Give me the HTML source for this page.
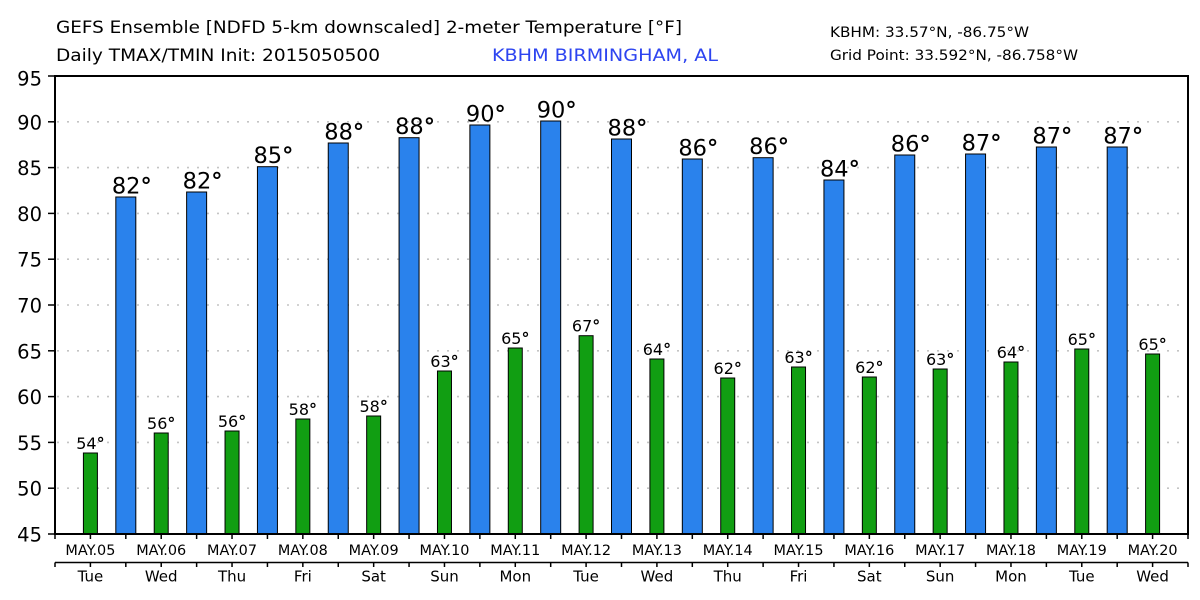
<!DOCTYPE html>
<html><head><meta charset="utf-8"><style>
html,body{margin:0;padding:0;background:#fff;}
svg{display:block;}
text{font-family:"DejaVu Sans","Liberation Sans",sans-serif;fill:#000;}
</style></head><body>
<svg width="1200" height="600" viewBox="0 0 1200 600" xmlns="http://www.w3.org/2000/svg">
<rect width="1200" height="600" fill="#fff"/>
<text x="56" y="33" font-size="16.5" textLength="626" lengthAdjust="spacingAndGlyphs">GEFS Ensemble [NDFD 5-km downscaled] 2-meter Temperature [°F]</text>
<text x="56" y="61" font-size="16.5" textLength="324" lengthAdjust="spacingAndGlyphs">Daily TMAX/TMIN Init: 2015050500</text>
<text x="492" y="61" font-size="16.5" textLength="226" lengthAdjust="spacingAndGlyphs" style="fill:#2d44f0">KBHM BIRMINGHAM, AL</text>
<text x="830" y="37" font-size="14" textLength="199" lengthAdjust="spacingAndGlyphs">KBHM: 33.57°N, -86.75°W</text>
<text x="830" y="60" font-size="14" textLength="248" lengthAdjust="spacingAndGlyphs">Grid Point: 33.592°N, -86.758°W</text>
<g id="grid"></g>
<g id="bars"></g>
<g id="axes"></g>
</svg>
<script>
(function(){
var NS="http://www.w3.org/2000/svg";
function el(p,t,a,txt){var e=document.createElementNS(NS,t);for(var k in a)e.setAttribute(k,a[k]);if(txt!=null)e.textContent=txt;p.appendChild(e);return e;}
var g=document.getElementById('grid'),b=document.getElementById('bars'),ax=document.getElementById('axes');
var L=55,R=1188,T=76,B=534;
function Y(v){return B-(v-45)*9.16;}
var dw=(R-L)/16;
for(var v=45;v<=95;v+=5){
  var y=Y(v);
  if(v>45&&v<95) el(g,'line',{x1:L+2,x2:R,y1:y,y2:y,stroke:'#c4c4c4','stroke-width':1.6,'stroke-dasharray':'2 8'});
  el(ax,'line',{x1:48,x2:L,y1:y,y2:y,stroke:'#000','stroke-width':1.5});
  el(ax,'text',{x:42,y:(v==95?y+9.5:y+7.5),'font-size':19.5,'text-anchor':'end'},String(v));
}
var maxT=[197,192,166.7,143,137.7,125,121,139,159,157.7,180,155,154,147,147];
var maxL=[82,82,85,88,88,90,90,88,86,86,84,86,87,87,87];
var minT=[453,433,431,419,416,371,348,335.7,359,378,367,377,369,362,349,354];
var minL=[54,56,56,58,58,63,65,67,64,62,63,62,63,64,65,65];
function lab(p,attrs,num){
  var t=el(p,'text',attrs);
  var s=document.createElementNS(NS,'tspan');s.textContent=String(num);t.appendChild(s);
  var d=document.createElementNS(NS,'tspan');d.setAttribute('font-weight','bold');d.textContent='°';t.appendChild(d);
  return t;
}
for(var i=0;i<15;i++){
  var cx=L+dw*(i+1);
  el(b,'rect',{x:cx-10,y:maxT[i],width:20,height:B-maxT[i],fill:'#2a82ec',stroke:'#000','stroke-width':1});
  lab(b,{x:cx-14,y:maxT[i]-3.5,'font-size':22.5},maxL[i]);
}
for(var i=0;i<16;i++){
  var cx=L+dw*(i+0.5);
  el(b,'rect',{x:cx-7,y:minT[i],width:14,height:B-minT[i],fill:'#119e12',stroke:'#000','stroke-width':1});
  lab(b,{x:cx,y:minT[i]-4,'font-size':16,'text-anchor':'middle'},minL[i]);
}
el(ax,'rect',{x:L,y:T,width:R-L,height:B-T,fill:'none',stroke:'#000','stroke-width':2});
el(ax,'line',{x1:L,x2:R,y1:562.5,y2:562.5,stroke:'#000','stroke-width':1.5});
var days=['Tue','Wed','Thu','Fri','Sat','Sun','Mon','Tue','Wed','Thu','Fri','Sat','Sun','Mon','Tue','Wed'];
for(var i=0;i<=32;i++){
  var x=L+dw*i/2;
  el(ax,'line',{x1:x,x2:x,y1:B,y2:539,stroke:'#000','stroke-width':1.5});
  el(ax,'line',{x1:x,x2:x,y1:562.5,y2:567,stroke:'#000','stroke-width':1.5});
}
for(var i=0;i<16;i++){
  var cx=L+dw*(i+0.5);
  var d=5+i; var ds=(d<10?'0':'')+d;
  el(ax,'text',{x:cx-25,y:555,'font-size':14,textLength:50,lengthAdjust:'spacingAndGlyphs'},'MAY.'+ds);
  el(ax,'text',{x:cx,y:581.7,'font-size':15,'text-anchor':'middle'},days[i]);
}
})();
</script>
</body></html>
